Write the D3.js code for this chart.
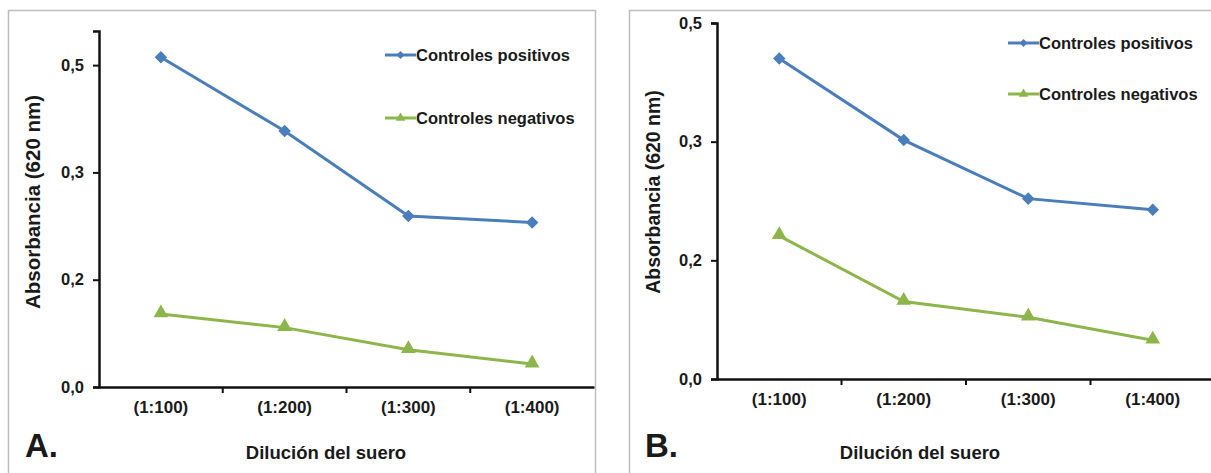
<!DOCTYPE html>
<html>
<head>
<meta charset="utf-8">
<script src="https://cdn.jsdelivr.net/npm/d3@7"></script>
<style>
  html, body { margin: 0; padding: 0; background: #fff; }
  svg { display: block; }
  text { font-family: "Liberation Sans", Arial, sans-serif; font-weight: bold; fill: #1a1a1a; }
</style>
</head>
<body>
<svg id="chart" width="1211" height="473"></svg>
<script>
// ---- data ----
const categories = ["(1:100)", "(1:200)", "(1:300)", "(1:400)"];
const seriesNames = ["Controles positivos", "Controles negativos"];
const positivosA = [0.461, 0.358, 0.239, 0.230];
const negativosA = [0.102, 0.083, 0.052, 0.032];
const positivosB = [0.405, 0.302, 0.228, 0.214];
const negativosB = [0.181, 0.098, 0.078, 0.049];
const yTickValues = [0, 0.15, 0.30, 0.45];
const yTickLabels = ["0,0", "0,2", "0,3", "0,5"];
const yAxisTitle = "Absorbancia (620 nm)";
const xAxisTitle = "Dilución del suero";
const panelLabels = ["A.", "B."];

const BLUE = "#4a7ebb", GREEN = "#8db64a";
const svg = d3.select("#chart");

function styleText(sel, size) {
  sel.attr("font-size", size).attr("fill", "#1a1a1a")
    .attr("font-family", "Liberation Sans, Arial, sans-serif").attr("font-weight", "bold");
}

function drawPanel(o) {
  const g = svg.append("g");
  g.append("rect").attr("x", o.frame[0] + 0.5).attr("y", o.frame[1] + 0.5)
    .attr("width", o.frame[2]).attr("height", o.frame[3])
    .attr("fill", "none").attr("stroke", "#bdbdbd").attr("stroke-width", 1.5);

  const x = d3.scaleBand().domain(categories).range([o.x0, o.x1]);
  const y = d3.scaleLinear().domain([0, o.ymax]).range([o.y0, o.y1]);

  const ya = g.append("g").attr("transform", `translate(${o.x0},0)`)
    .call(d3.axisLeft(y).tickValues(yTickValues)
      .tickFormat((d, i) => yTickLabels[i]).tickSizeOuter(0).tickSize(6).tickPadding(9));
  ya.select(".domain").attr("stroke", "#111").attr("stroke-width", 2.5);
  ya.selectAll(".tick line").attr("stroke", "#111").attr("stroke-width", 2);
  styleText(ya.selectAll(".tick text"), 16.5);

  const xa = g.append("g").attr("transform", `translate(0,${o.y0})`)
    .call(d3.axisBottom(x).tickSize(0).tickPadding(14).tickSizeOuter(0));
  xa.select(".domain").attr("stroke", "#111").attr("stroke-width", 2.5);
  styleText(xa.selectAll(".tick text"), 17);
  g.selectAll(".sep").data(categories.slice(1)).join("line")
    .attr("x1", d => x(d)).attr("x2", d => x(d))
    .attr("y1", o.y0).attr("y2", o.y0 + 6)
    .attr("stroke", "#111").attr("stroke-width", 2);

  const cx = d => x(d) + x.bandwidth() / 2;
  const line = d3.line().x((d, i) => cx(categories[i])).y(d => y(d));

  g.append("path").datum(o.pos).attr("d", line)
    .attr("fill", "none").attr("stroke", BLUE).attr("stroke-width", 3);
  g.append("path").datum(o.neg).attr("d", line)
    .attr("fill", "none").attr("stroke", GREEN).attr("stroke-width", 3);

  const diamond = d3.symbol().type(d3.symbolDiamond2).size(100);
  const tri = d3.symbol().type(d3.symbolTriangle).size(95);
  g.selectAll(".pm").data(o.pos).join("path")
    .attr("transform", (d, i) => `translate(${cx(categories[i])},${y(d)})`)
    .attr("d", diamond).attr("fill", BLUE);
  g.selectAll(".nm").data(o.neg).join("path")
    .attr("transform", (d, i) => `translate(${cx(categories[i])},${y(d) - 1})`)
    .attr("d", tri).attr("fill", GREEN);

  const leg = [[seriesNames[0], BLUE, d3.symbolDiamond2, o.legY[0]],
               [seriesNames[1], GREEN, d3.symbolTriangle, o.legY[1]]];
  leg.forEach(([name, col, sym, ly]) => {
    g.append("line").attr("x1", o.legX).attr("x2", o.legX + 31)
      .attr("y1", ly).attr("y2", ly).attr("stroke", col).attr("stroke-width", 3);
    g.append("path").attr("transform", `translate(${o.legX + 15.5},${ly})`)
      .attr("d", d3.symbol().type(sym).size(40)).attr("fill", col);
    styleText(g.append("text").attr("x", o.legX + 31).attr("y", ly).attr("dy", "0.36em")
      .text(name), o.legSize);
  });

  styleText(g.append("text")
    .attr("transform", `translate(${o.yTitleX},${o.yTitleY}) rotate(-90)`)
    .attr("text-anchor", "middle").attr("dy", "0.36em").text(yAxisTitle), o.yTitleSize);
  styleText(g.append("text").attr("x", o.xTitleX).attr("y", o.xTitleY).attr("dy", "0.36em")
    .attr("text-anchor", "middle").text(xAxisTitle), 18.5);
  styleText(g.append("text").attr("x", o.labX).attr("y", o.labY).attr("dy", "0.36em")
    .text(o.label), 33);
}

drawPanel({
  frame: [8, 10, 587, 470], x0: 99, x1: 594, y0: 387, y1: 31, ymax: 0.4977,
  pos: positivosA, neg: negativosA, legX: 385, legY: [55, 118], legSize: 16.5,
  yTitleX: 33, yTitleY: 202, yTitleSize: 20.5, xTitleX: 326, xTitleY: 452,
  labX: 25, labY: 445, label: panelLabels[0]
});
drawPanel({
  frame: [629, 10, 600, 470], x0: 717, x1: 1215, y0: 379, y1: 23, ymax: 0.45,
  pos: positivosB, neg: negativosB, legX: 1008, legY: [43, 94], legSize: 16.5,
  yTitleX: 653, yTitleY: 192, yTitleSize: 19.5, xTitleX: 920, xTitleY: 452,
  labX: 645, labY: 445, label: panelLabels[1]
});
</script>
</body>
</html>
